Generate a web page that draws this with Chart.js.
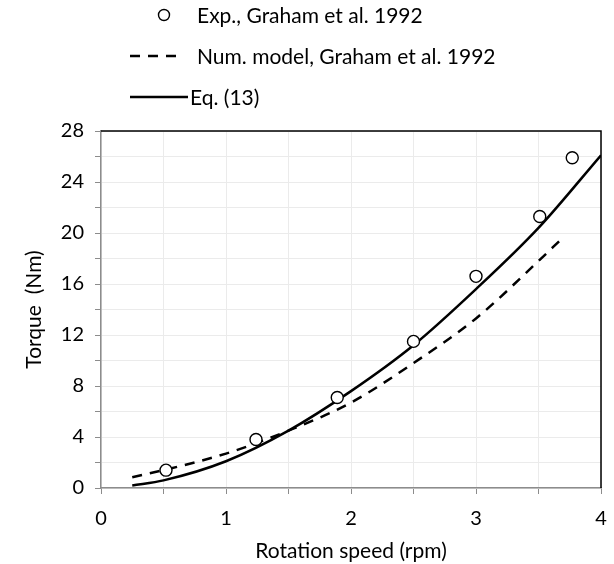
<!DOCTYPE html>
<html>
<head>
<meta charset="utf-8">
<script src="https://cdn.jsdelivr.net/npm/chart.js@4.4.1/dist/chart.umd.min.js"></script>
<style>
  html, body { margin: 0; padding: 0; background: #fff; }
  #wrap { width: 614px; height: 564px; position: relative; }
</style>
</head>
<body>
<div id="wrap"><canvas id="chart" width="614" height="564"></canvas></div>
<script>
// dados
var expX = [0.52, 1.24, 1.89, 2.50, 3.00, 3.51, 3.77];
var expY = [1.4, 3.8, 7.1, 11.5, 16.6, 21.3, 25.9];

var numX = [0.25, 0.5, 1.0, 1.5, 2.0, 2.5, 3.0, 3.5, 3.67];
var numY = [0.85, 1.4, 2.7, 4.5, 6.7, 9.8, 13.3, 17.8, 19.4];

var eqX = [0.25, 0.5, 1.0, 1.5, 2.0, 2.5, 3.0, 3.5, 4.0];
var eqY = [0.2, 0.6, 2.1, 4.5, 7.6, 11.2, 15.6, 20.4, 26.1];

var legendLabels = ['Exp., Graham et al. 1992', 'Num. model, Graham et al. 1992', 'Eq. (13)'];
var xTitle = 'Rotation speed (rpm)';
var yTitle = 'Torque  (Nm)';

function pares(xs, ys) {
  return xs.map(function (x, i) { return { x: x, y: ys[i] }; });
}

var fonte = 'Lato, "Open Sans", sans-serif';

// legenda desenhada à mão + borda preta em cima e à direita
var extras = {
  id: 'extras',
  afterDraw: function (chart) {
    var ctx = chart.ctx;
    var a = chart.chartArea;
    ctx.save();
    ctx.strokeStyle = '#000';
    ctx.lineWidth = 1.5;
    ctx.beginPath();
    ctx.moveTo(a.left, a.top);
    ctx.lineTo(a.right, a.top);
    ctx.lineTo(a.right, a.bottom);
    ctx.stroke();

    ctx.font = '21px ' + fonte;
    ctx.fillStyle = '#000';
    ctx.textBaseline = 'middle';
    ctx.textAlign = 'left';

    // linha 1: círculo
    ctx.lineWidth = 1.4;
    ctx.beginPath();
    ctx.arc(164, 15, 5.5, 0, Math.PI * 2);
    ctx.stroke();
    ctx.fillText(legendLabels[0], 197, 16);

    // linha 2: tracejada
    ctx.lineWidth = 2.5;
    ctx.setLineDash([10, 8]);
    ctx.beginPath();
    ctx.moveTo(130, 56);
    ctx.lineTo(184, 56);
    ctx.stroke();
    ctx.setLineDash([]);
    ctx.fillText(legendLabels[1], 197, 57);

    // linha 3: contínua
    ctx.beginPath();
    ctx.moveTo(130, 97);
    ctx.lineTo(188, 97);
    ctx.stroke();
    ctx.fillText(legendLabels[2], 190, 98);
    ctx.restore();
  }
};

var ctx = document.getElementById('chart').getContext('2d');
window.grafico = new Chart(ctx, {
  type: 'scatter',
  data: {
    datasets: [
      {
        label: legendLabels[0],
        data: pares(expX, expY),
        pointRadius: 6,
        pointBackgroundColor: '#fff',
        pointBorderColor: '#000',
        pointBorderWidth: 1.4,
        showLine: false,
        order: 0
      },
      {
        label: legendLabels[1],
        data: pares(numX, numY),
        showLine: true,
        pointRadius: 0,
        borderColor: '#000',
        borderWidth: 2.5,
        borderDash: [10, 8],
        cubicInterpolationMode: 'monotone',
        order: 2
      },
      {
        label: legendLabels[2],
        data: pares(eqX, eqY),
        showLine: true,
        pointRadius: 0,
        borderColor: '#000',
        borderWidth: 2.5,
        cubicInterpolationMode: 'monotone',
        order: 1
      }
    ]
  },
  options: {
    responsive: false,
    animation: false,
    layout: { padding: { top: 131, right: 13, left: 22, bottom: 0 } },
    plugins: { legend: { display: false }, tooltip: { enabled: false } },
    scales: {
      x: {
        type: 'linear',
        min: 0, max: 4,
        afterFit: function (s) { s.height = 76; s.paddingLeft = 0; s.paddingRight = 0; },
        ticks: {
          stepSize: 0.5,
          color: '#000',
          font: { family: fonte, size: 20 },
          padding: 13,
          maxRotation: 0,
          autoSkip: false,
          callback: function (v) { return Number.isInteger(v) ? v : ''; }
        },
        grid: { color: '#ebebeb', tickColor: '#8c8c8c', tickLength: 6, lineWidth: 1 },
        border: { color: '#8c8c8c', width: 1.5 },
        title: { display: true, text: xTitle, color: '#000', font: { family: fonte, size: 21 }, padding: { top: 0, bottom: 0 } }
      },
      y: {
        min: 0, max: 28,
        afterFit: function (s) { s.width = 79; s.paddingTop = 0; s.paddingBottom = 0; },
        ticks: {
          stepSize: 2,
          color: '#000',
          font: { family: fonte, size: 20 },
          padding: 11,
          autoSkip: false,
          callback: function (v) { return v % 4 === 0 ? v : ''; }
        },
        grid: { color: '#ebebeb', tickColor: '#8c8c8c', tickLength: 6, lineWidth: 1 },
        border: { color: '#8c8c8c', width: 1.5 },
        title: { display: true, text: yTitle, color: '#000', font: { family: fonte, size: 21 }, padding: { top: 0, bottom: 0 } }
      }
    }
  },
  plugins: [extras]
});
</script>
</body>
</html>
